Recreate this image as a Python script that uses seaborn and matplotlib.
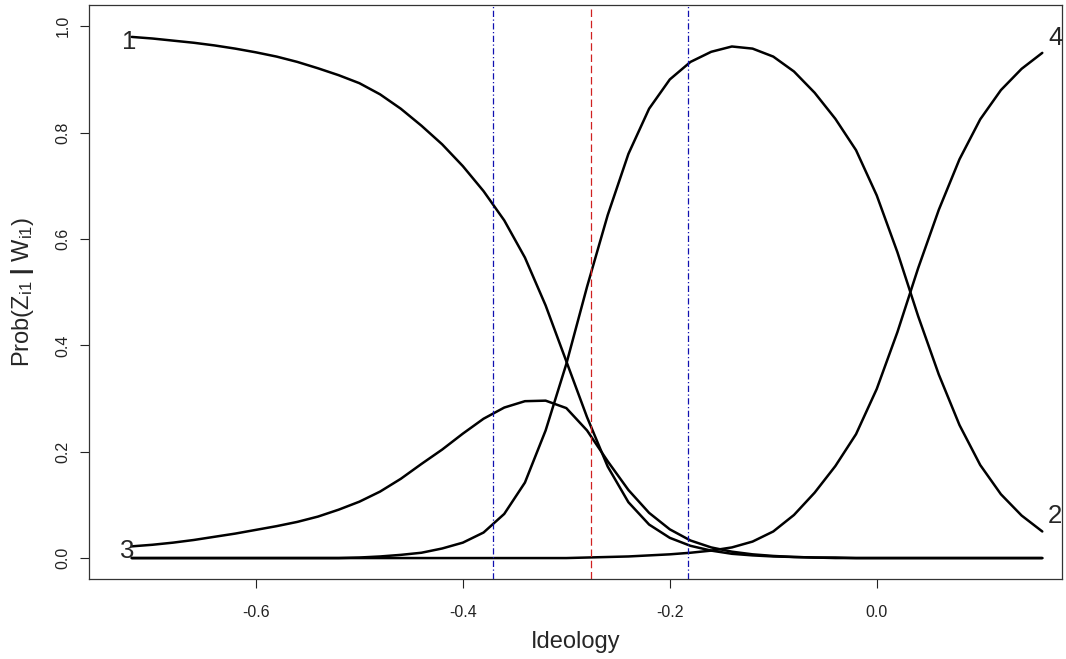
import numpy as np
import pandas as pd
import matplotlib
matplotlib.use("Agg")
import matplotlib.pyplot as plt
import seaborn as sns

# ideology grid and class probabilities
ideology = [-0.72, -0.70, -0.68, -0.66, -0.64, -0.62, -0.60, -0.58, -0.56, -0.54,
            -0.52, -0.50, -0.48, -0.46, -0.44, -0.42, -0.40, -0.38, -0.36, -0.34,
            -0.32, -0.30, -0.28, -0.26, -0.24, -0.22, -0.20, -0.18, -0.16, -0.14,
            -0.12, -0.10, -0.08, -0.06, -0.04, -0.02, 0.00, 0.02, 0.04, 0.06,
            0.08, 0.10, 0.12, 0.14, 0.16]

prob_1 = [0.980, 0.977, 0.973, 0.969, 0.964, 0.958, 0.951, 0.943, 0.933, 0.921,
          0.908, 0.893, 0.872, 0.845, 0.813, 0.778, 0.737, 0.690, 0.635, 0.565,
          0.475, 0.370, 0.265, 0.172, 0.105, 0.063, 0.038, 0.023, 0.014, 0.008,
          0.005, 0.003, 0.002, 0.001, 0.000, 0.000, 0.000, 0.000, 0.000, 0.000,
          0.000, 0.000, 0.000, 0.000, 0.000]

prob_2 = [0.000, 0.000, 0.000, 0.000, 0.000, 0.000, 0.000, 0.000, 0.000, 0.000,
          0.000, 0.001, 0.003, 0.006, 0.010, 0.018, 0.029, 0.048, 0.083, 0.142,
          0.240, 0.365, 0.510, 0.645, 0.760, 0.845, 0.900, 0.933, 0.952, 0.962,
          0.958, 0.943, 0.915, 0.875, 0.826, 0.767, 0.682, 0.575, 0.455, 0.345,
          0.250, 0.175, 0.120, 0.080, 0.050]

prob_3 = [0.022, 0.025, 0.029, 0.034, 0.040, 0.046, 0.053, 0.060, 0.068, 0.078,
          0.091, 0.106, 0.125, 0.149, 0.177, 0.204, 0.234, 0.262, 0.283, 0.295,
          0.296, 0.282, 0.240, 0.182, 0.128, 0.085, 0.054, 0.033, 0.020, 0.012,
          0.007, 0.004, 0.002, 0.001, 0.001, 0.000, 0.000, 0.000, 0.000, 0.000,
          0.000, 0.000, 0.000, 0.000, 0.000]

prob_4 = [0.000, 0.000, 0.000, 0.000, 0.000, 0.000, 0.000, 0.000, 0.000, 0.000,
          0.000, 0.000, 0.000, 0.000, 0.000, 0.000, 0.000, 0.000, 0.000, 0.000,
          0.000, 0.000, 0.001, 0.002, 0.003, 0.005, 0.007, 0.010, 0.014, 0.020,
          0.031, 0.050, 0.081, 0.123, 0.173, 0.233, 0.318, 0.425, 0.545, 0.655,
          0.750, 0.825, 0.880, 0.920, 0.950]

# cut points (blue dot-dash) and the middle threshold (red dashed)
blue_cuts = [-0.371, -0.1826]
red_cut = -0.2763

x_ticks = [-0.6, -0.4, -0.2, 0.0]
y_ticks = [0.0, 0.2, 0.4, 0.6, 0.8, 1.0]

sns.set_style("white")
plt.rcParams['font.family'] = ['Liberation Sans', 'DejaVu Sans']
plt.rcParams['mathtext.fontset'] = 'custom'
plt.rcParams['mathtext.rm'] = 'Liberation Sans'
plt.rcParams['mathtext.it'] = 'Liberation Sans'
plt.rcParams['mathtext.bf'] = 'Liberation Sans:bold'

df = pd.DataFrame({
    'ideology': ideology * 4,
    'prob': prob_1 + prob_2 + prob_3 + prob_4,
    'cls': ['1'] * 45 + ['2'] * 45 + ['3'] * 45 + ['4'] * 45,
})

fig = plt.figure(figsize=(10.66, 6.59), dpi=100)
ax = fig.add_axes([0.0838, 0.1209, 0.9124, 0.8715])

sns.lineplot(data=df, x='ideology', y='prob', hue='cls', estimator=None,
             palette=['black'] * 4, linewidth=1.8, legend=False, ax=ax)

for xc in blue_cuts:
    ax.axvline(xc, color='#1010b0', linewidth=0.9, linestyle=(0, (5, 2, 1, 2)))
ax.axvline(red_cut, color='#d02020', linewidth=0.9, linestyle=(0, (6, 3)))

# curve numbers at the ends of the lines
lab_kw = dict(textcoords='offset points', ha='center', va='center', fontsize=18.5)
ax.annotate('1', xy=(ideology[0], prob_1[0]), xytext=(-1.5, -4), **lab_kw)
ax.annotate('3', xy=(ideology[0], prob_3[0]), xytext=(-3, -3), **lab_kw)
ax.annotate('4', xy=(ideology[-1], prob_4[-1]), xytext=(9.4, 10.8), **lab_kw)
ax.annotate('2', xy=(ideology[-1], prob_2[-1]), xytext=(9.4, 10.8), **lab_kw)

ax.set_xlim(-0.761, 0.179)
ax.set_ylim(-0.04, 1.04)
ax.set_xticks(x_ticks)
ax.set_xticklabels(['-0.6', '-0.4', '-0.2', '0.0'])
ax.set_yticks(y_ticks)
ax.set_yticklabels(['0.0', '0.2', '0.4', '0.6', '0.8', '1.0'], rotation=90, va='center')
ax.tick_params(axis='both', direction='out', length=6.5, width=0.8, color='#222222',
               labelsize=11.5, labelcolor='#222222', bottom=True, left=True)
ax.tick_params(axis='x', pad=12)
ax.tick_params(axis='y', pad=7)

ax.set_xlabel('Ideology', fontsize=17, labelpad=8)
ax.set_ylabel(r'Prob$(\mathrm{Z_{i1}}\ \mathbf{|}\ \mathrm{W_{i1}})$', fontsize=17, labelpad=14)

for side in ax.spines.values():
    side.set_visible(True)
    side.set_color('#333333')
    side.set_linewidth(0.9)

fig.savefig('out.png', dpi=100)
